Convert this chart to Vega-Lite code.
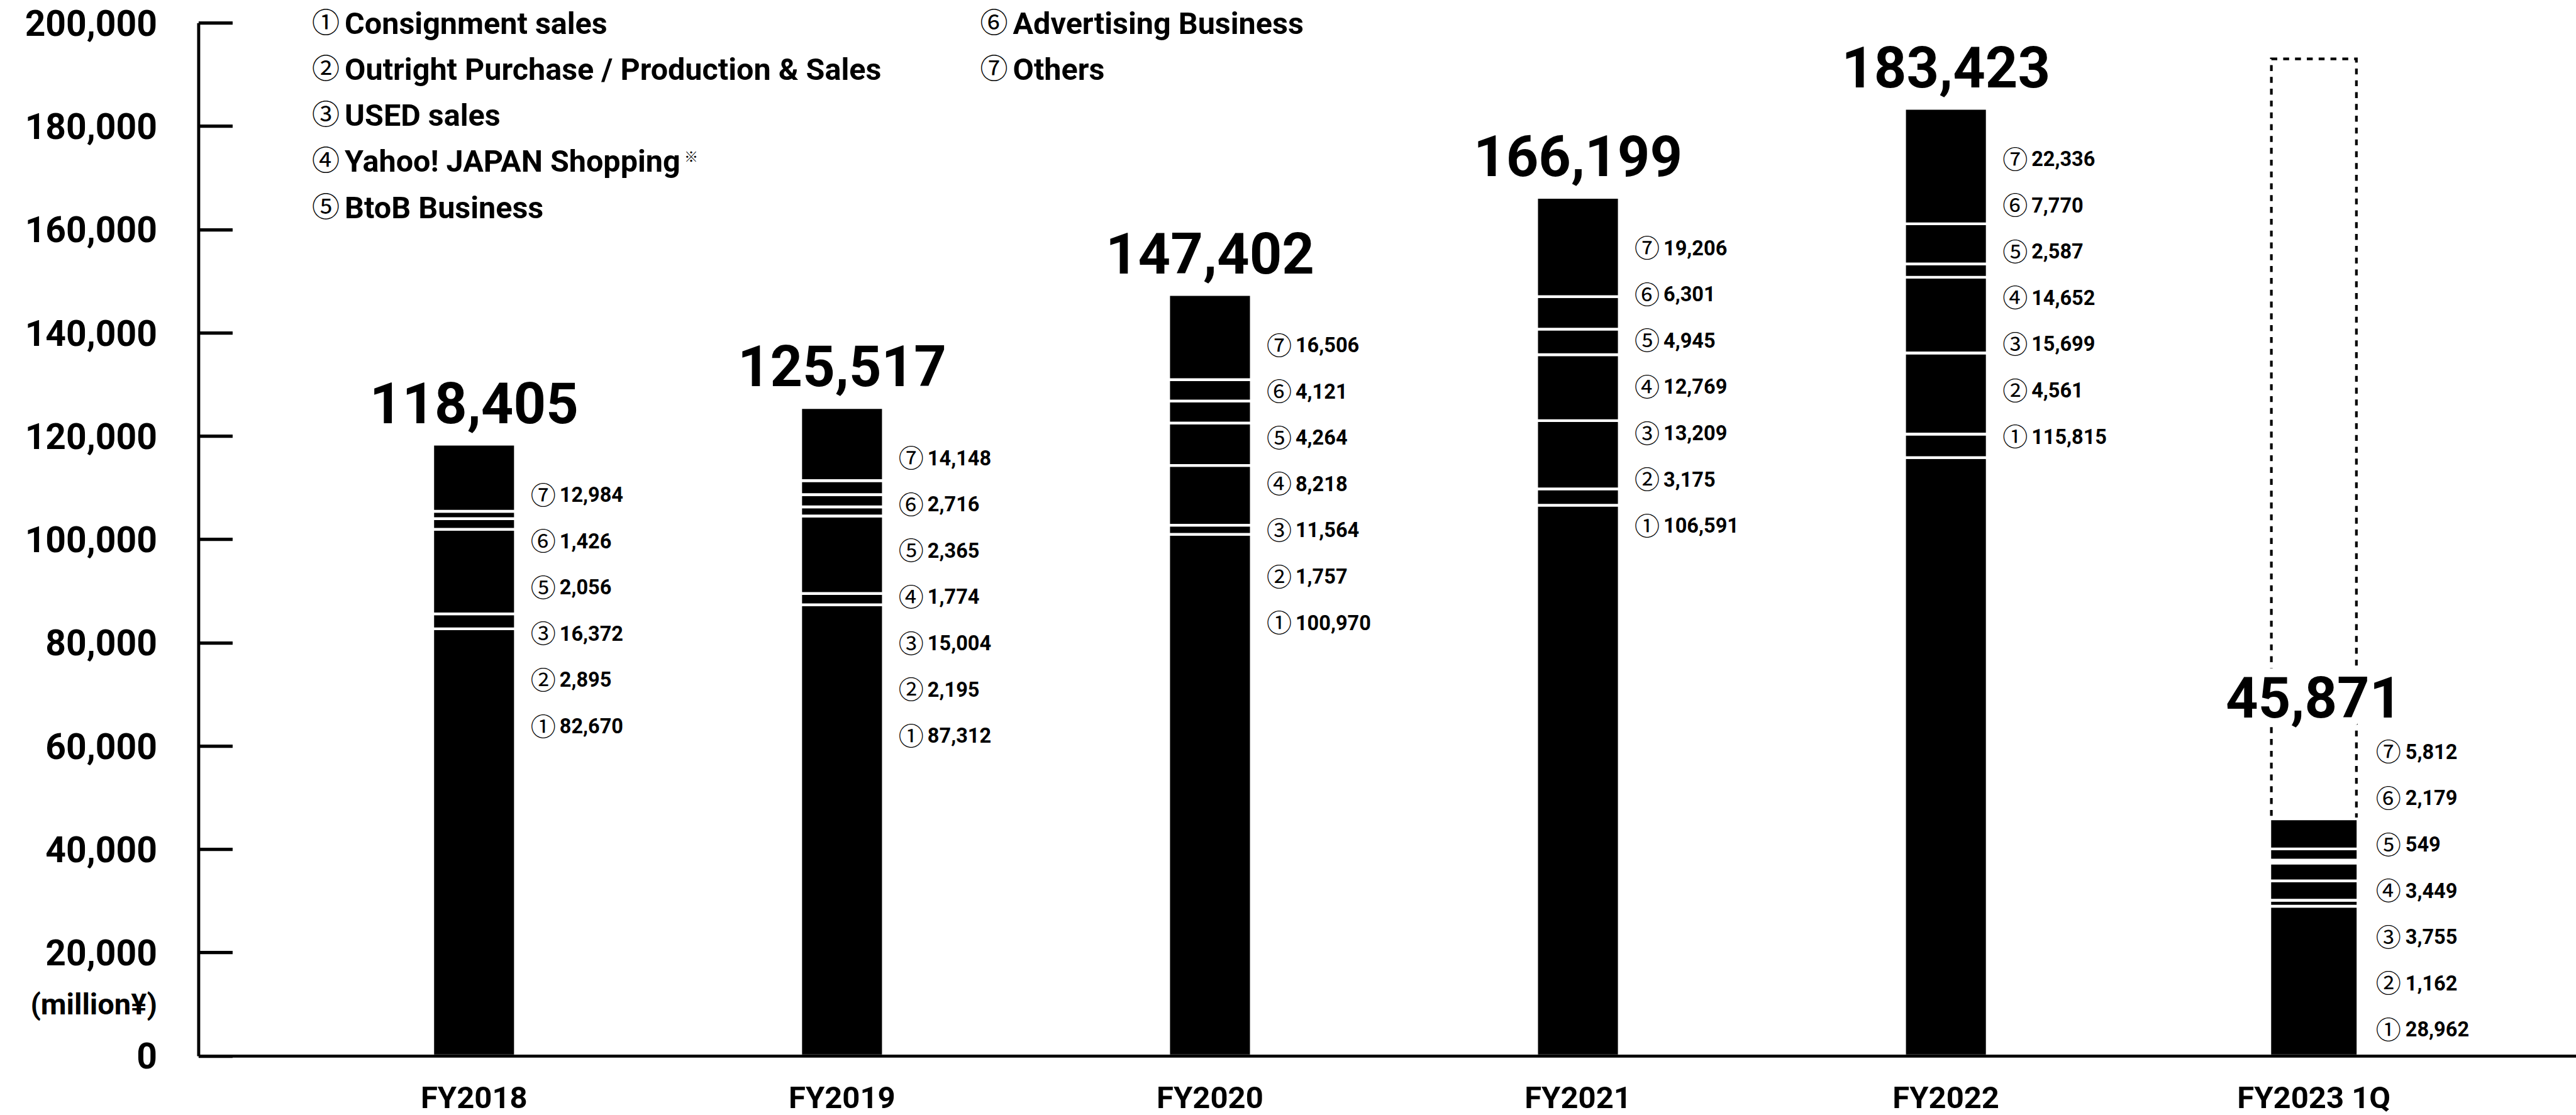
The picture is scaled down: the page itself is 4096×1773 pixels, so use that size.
{
  "$schema": "https://vega.github.io/schema/vega-lite/v6.json",
  "width": 3780.6,
  "height": 1642.7,
  "autosize": {"type": "none"},
  "padding": {"left": 315.4, "top": 36.2, "right": 0, "bottom": 94.1},
  "background": "white",
  "datasets": {
    "segments": [
      {"year": "FY2018", "seg": 1, "no": "①", "value": 82670},
      {"year": "FY2018", "seg": 2, "no": "②", "value": 2895},
      {"year": "FY2018", "seg": 3, "no": "③", "value": 16372},
      {"year": "FY2018", "seg": 5, "no": "⑤", "value": 2056},
      {"year": "FY2018", "seg": 6, "no": "⑥", "value": 1426},
      {"year": "FY2018", "seg": 7, "no": "⑦", "value": 12984},
      {"year": "FY2019", "seg": 1, "no": "①", "value": 87312},
      {"year": "FY2019", "seg": 2, "no": "②", "value": 2195},
      {"year": "FY2019", "seg": 3, "no": "③", "value": 15004},
      {"year": "FY2019", "seg": 4, "no": "④", "value": 1774},
      {"year": "FY2019", "seg": 5, "no": "⑤", "value": 2365},
      {"year": "FY2019", "seg": 6, "no": "⑥", "value": 2716},
      {"year": "FY2019", "seg": 7, "no": "⑦", "value": 14148},
      {"year": "FY2020", "seg": 1, "no": "①", "value": 100970},
      {"year": "FY2020", "seg": 2, "no": "②", "value": 1757},
      {"year": "FY2020", "seg": 3, "no": "③", "value": 11564},
      {"year": "FY2020", "seg": 4, "no": "④", "value": 8218},
      {"year": "FY2020", "seg": 5, "no": "⑤", "value": 4264},
      {"year": "FY2020", "seg": 6, "no": "⑥", "value": 4121},
      {"year": "FY2020", "seg": 7, "no": "⑦", "value": 16506},
      {"year": "FY2021", "seg": 1, "no": "①", "value": 106591},
      {"year": "FY2021", "seg": 2, "no": "②", "value": 3175},
      {"year": "FY2021", "seg": 3, "no": "③", "value": 13209},
      {"year": "FY2021", "seg": 4, "no": "④", "value": 12769},
      {"year": "FY2021", "seg": 5, "no": "⑤", "value": 4945},
      {"year": "FY2021", "seg": 6, "no": "⑥", "value": 6301},
      {"year": "FY2021", "seg": 7, "no": "⑦", "value": 19206},
      {"year": "FY2022", "seg": 1, "no": "①", "value": 115815},
      {"year": "FY2022", "seg": 2, "no": "②", "value": 4561},
      {"year": "FY2022", "seg": 3, "no": "③", "value": 15699},
      {"year": "FY2022", "seg": 4, "no": "④", "value": 14652},
      {"year": "FY2022", "seg": 5, "no": "⑤", "value": 2587},
      {"year": "FY2022", "seg": 6, "no": "⑥", "value": 7770},
      {"year": "FY2022", "seg": 7, "no": "⑦", "value": 22336},
      {"year": "FY2023 1Q", "seg": 1, "no": "①", "value": 28962},
      {"year": "FY2023 1Q", "seg": 2, "no": "②", "value": 1162},
      {"year": "FY2023 1Q", "seg": 3, "no": "③", "value": 3755},
      {"year": "FY2023 1Q", "seg": 4, "no": "④", "value": 3449},
      {"year": "FY2023 1Q", "seg": 5, "no": "⑤", "value": 549},
      {"year": "FY2023 1Q", "seg": 6, "no": "⑥", "value": 2179},
      {"year": "FY2023 1Q", "seg": 7, "no": "⑦", "value": 5812}
    ],
    "totals": [
      {"year": "FY2018", "total": 118405},
      {"year": "FY2019", "total": 125517},
      {"year": "FY2020", "total": 147402},
      {"year": "FY2021", "total": 166199},
      {"year": "FY2022", "total": 183423},
      {"year": "FY2023 1Q", "total": 45871}
    ],
    "outlook": [
      {"year": "FY2023 1Q", "outlook": 193000}
    ],
    "legend": [
      {"id": 1, "no": "①", "name": "Consignment sales"},
      {"id": 2, "no": "②", "name": "Outright Purchase / Production & Sales"},
      {"id": 3, "no": "③", "name": "USED sales"},
      {"id": 4, "no": "④", "name": "Yahoo! JAPAN Shopping"},
      {"id": 5, "no": "⑤", "name": "BtoB Business"},
      {"id": 6, "no": "⑥", "name": "Advertising Business"},
      {"id": 7, "no": "⑦", "name": "Others"}
    ]
  },
  "layer": [
    {
      "layer": [
        {
          "data": {"name": "outlook"},
          "mark": {"type": "bar", "width": 135.2, "filled": false, "stroke": "#000", "strokeWidth": 4.2, "strokeDash": [9.4, 9.4]},
          "encoding": {
            "x": {
              "field": "year", "type": "ordinal",
              "sort": ["FY2018", "FY2019", "FY2020", "FY2021", "FY2022", "FY2023 1Q"],
              "scale": {"domain": ["FY2018", "FY2019", "FY2020", "FY2021", "FY2022", "FY2023 1Q"], "paddingInner": 0, "paddingOuter": 0.2308, "align": 0.54, "round": false},
              "axis": {"title": null, "labelAngle": 0, "ticks": false, "domainColor": "#000", "domainWidth": 4.9, "labelPadding": 44, "labelLimit": 0, "labelFont": "Roboto", "labelFontWeight": "bold", "labelFontSize": 49, "labelColor": "#000", "zindex": 1}
            },
            "y": {
              "field": "outlook", "type": "quantitative",
              "scale": {"domain": [0, 200000], "nice": false, "zero": true},
              "axis": {
                "values": [0, 20000, 40000, 60000, 80000, 100000, 120000, 140000, 160000, 180000, 200000],
                "labelExpr": "format(datum.value, ',')", "grid": false, "tickSize": -54, "tickWidth": 5.2, "tickColor": "#000",
                "domainColor": "#000", "domainWidth": 4.9, "labelPadding": 120, "labelFlush": false, "labelLimit": 0,
                "labelFont": "Roboto", "labelFontWeight": "bold", "labelFontSize": 57, "labelColor": "#000",
                "labelBaseline": "middle", "labelOffset": 3,
                "title": "(million¥)", "titleAngle": 0, "titleAlign": "right", "titleBaseline": "middle",
                "titleX": -66, "titleY": 1562, "titleFont": "Roboto", "titleFontWeight": "bold", "titleFontSize": 47, "titleColor": "#000",
                "zindex": 1
              }
            }
          }
        },
        {
          "data": {"name": "segments"},
          "transform": [{"filter": "datum.year !== 'FY2023 1Q'"}],
          "mark": {"type": "bar", "width": 131.5, "fill": "#000", "stroke": "#fff", "strokeWidth": 4.4},
          "encoding": {
            "x": {"field": "year", "type": "ordinal", "sort": ["FY2018", "FY2019", "FY2020", "FY2021", "FY2022", "FY2023 1Q"]},
            "y": {"field": "value", "type": "quantitative", "stack": "zero"},
            "detail": {"field": "seg"},
            "order": {"field": "seg", "type": "quantitative", "sort": "ascending"}
          }
        },
        {
          "data": {"name": "segments"},
          "transform": [{"filter": "datum.year === 'FY2023 1Q'"}],
          "mark": {"type": "bar", "width": 140.3, "fill": "#000", "stroke": "#fff", "strokeWidth": 4.4},
          "encoding": {
            "x": {"field": "year", "type": "ordinal", "sort": ["FY2018", "FY2019", "FY2020", "FY2021", "FY2022", "FY2023 1Q"]},
            "y": {"field": "value", "type": "quantitative", "stack": "zero"},
            "detail": {"field": "seg"},
            "order": {"field": "seg", "type": "quantitative", "sort": "ascending"}
          }
        },
        {
          "data": {"name": "segments"},
          "transform": [
            {"filter": "datum.year !== 'FY2023 1Q'"},
            {"calculate": "format(datum.value, ',')", "as": "lab"},
            {"aggregate": [{"op": "values", "as": "vals"}], "groupby": ["year"]},
            {"calculate": "reverse(pluck(datum.vals, 'lab'))", "as": "labs"},
            {"calculate": "reverse(pluck(datum.vals, 'no'))", "as": "nos"},
            {"lookup": "year", "from": {"data": {"name": "totals"}, "key": "year", "fields": ["total"]}}
          ],
          "encoding": {
            "x": {"field": "year", "type": "ordinal", "sort": ["FY2018", "FY2019", "FY2020", "FY2021", "FY2022", "FY2023 1Q"]},
            "y": {"field": "total", "type": "quantitative"}
          },
          "layer": [
            {"mark": {"type": "text", "align": "left", "baseline": "alphabetic", "lineHeight": 73.6, "dx": 90, "dy": 95.3, "font": "Noto Sans CJK JP", "fontSize": 40, "color": "#000"}, "encoding": {"text": {"field": "nos", "type": "nominal"}}},
            {"mark": {"type": "text", "align": "left", "baseline": "alphabetic", "lineHeight": 73.6, "dx": 136, "dy": 91.7, "font": "Roboto", "fontWeight": "bold", "fontSize": 32.5, "color": "#000"}, "encoding": {"text": {"field": "labs", "type": "nominal"}}}
          ]
        },
        {
          "data": {"name": "segments"},
          "transform": [
            {"filter": "datum.year === 'FY2023 1Q'"},
            {"calculate": "format(datum.value, ',')", "as": "lab"},
            {"aggregate": [{"op": "values", "as": "vals"}], "groupby": ["year"]},
            {"calculate": "reverse(pluck(datum.vals, 'lab'))", "as": "labs"},
            {"calculate": "reverse(pluck(datum.vals, 'no'))", "as": "nos"},
            {"lookup": "year", "from": {"data": {"name": "totals"}, "key": "year", "fields": ["total"]}}
          ],
          "encoding": {
            "x": {"field": "year", "type": "ordinal", "sort": ["FY2018", "FY2019", "FY2020", "FY2021", "FY2022", "FY2023 1Q"]},
            "y": {"field": "total", "type": "quantitative"}
          },
          "layer": [
            {"mark": {"type": "text", "align": "left", "baseline": "alphabetic", "lineHeight": 73.6, "dx": 98.5, "dy": -91.7, "font": "Noto Sans CJK JP", "fontSize": 40, "color": "#000"}, "encoding": {"text": {"field": "nos", "type": "nominal"}}},
            {"mark": {"type": "text", "align": "left", "baseline": "alphabetic", "lineHeight": 73.6, "dx": 145.6, "dy": -95.4, "font": "Roboto", "fontWeight": "bold", "fontSize": 32.5, "color": "#000"}, "encoding": {"text": {"field": "labs", "type": "nominal"}}}
          ]
        },
        {
          "data": {"name": "totals"},
          "transform": [{"filter": "datum.year !== 'FY2023 1Q'"}],
          "mark": {"type": "text", "align": "center", "baseline": "alphabetic", "dy": -33.6, "font": "Roboto", "fontWeight": "bold", "fontSize": 90, "color": "#000"},
          "encoding": {
            "x": {"field": "year", "type": "ordinal", "sort": ["FY2018", "FY2019", "FY2020", "FY2021", "FY2022", "FY2023 1Q"]},
            "y": {"field": "total", "type": "quantitative"},
            "text": {"field": "total", "type": "quantitative", "format": ","}
          }
        },
        {
          "data": {"name": "totals"},
          "transform": [{"filter": "datum.year === 'FY2023 1Q'"}],
          "encoding": {
            "x": {"field": "year", "type": "ordinal", "sort": ["FY2018", "FY2019", "FY2020", "FY2021", "FY2022", "FY2023 1Q"]},
            "y": {"field": "total", "type": "quantitative"},
            "text": {"field": "total", "type": "quantitative", "format": ","}
          },
          "layer": [
            {"mark": {"type": "text", "align": "center", "baseline": "alphabetic", "dy": -161, "font": "Roboto", "fontWeight": "bold", "fontSize": 90, "fill": "#fff", "stroke": "#fff", "strokeWidth": 28, "strokeJoin": "round"}},
            {"mark": {"type": "text", "align": "center", "baseline": "alphabetic", "dy": -161, "font": "Roboto", "fontWeight": "bold", "fontSize": 90, "color": "#000"}}
          ]
        }
      ]
    },
    {
      "data": {"name": "legend"},
      "transform": [
        {"calculate": "datum.id > 5 ? 1 : 0", "as": "lcol"},
        {"calculate": "datum.id > 5 ? datum.id - 6 : datum.id - 1", "as": "lrow"}
      ],
      "encoding": {
        "x": {"field": "lcol", "type": "quantitative", "scale": {"domain": [0, 1], "range": [180.7, 1243.1]}, "axis": null},
        "y": {"field": "lrow", "type": "quantitative", "scale": {"domain": [0, 4], "range": [3, 295.3]}, "axis": null}
      },
      "layer": [
        {"mark": {"type": "text", "align": "left", "baseline": "middle", "font": "Noto Sans CJK JP", "fontSize": 44, "color": "#000"}, "encoding": {"text": {"field": "no"}}},
        {"mark": {"type": "text", "align": "left", "baseline": "middle", "dx": 52, "font": "Roboto", "fontWeight": "bold", "fontSize": 48.5, "color": "#000"}, "encoding": {"text": {"field": "name"}}},
        {"transform": [{"filter": "datum.id === 4"}], "mark": {"type": "text", "align": "left", "baseline": "middle", "dx": 592, "dy": -8, "font": "Noto Sans CJK JP", "fontSize": 22, "color": "#000", "text": "※"}}
      ]
    }
  ],
  "resolve": {"scale": {"x": "independent", "y": "independent"}},
  "config": {"view": {"stroke": null}, "font": "Roboto"}
}
